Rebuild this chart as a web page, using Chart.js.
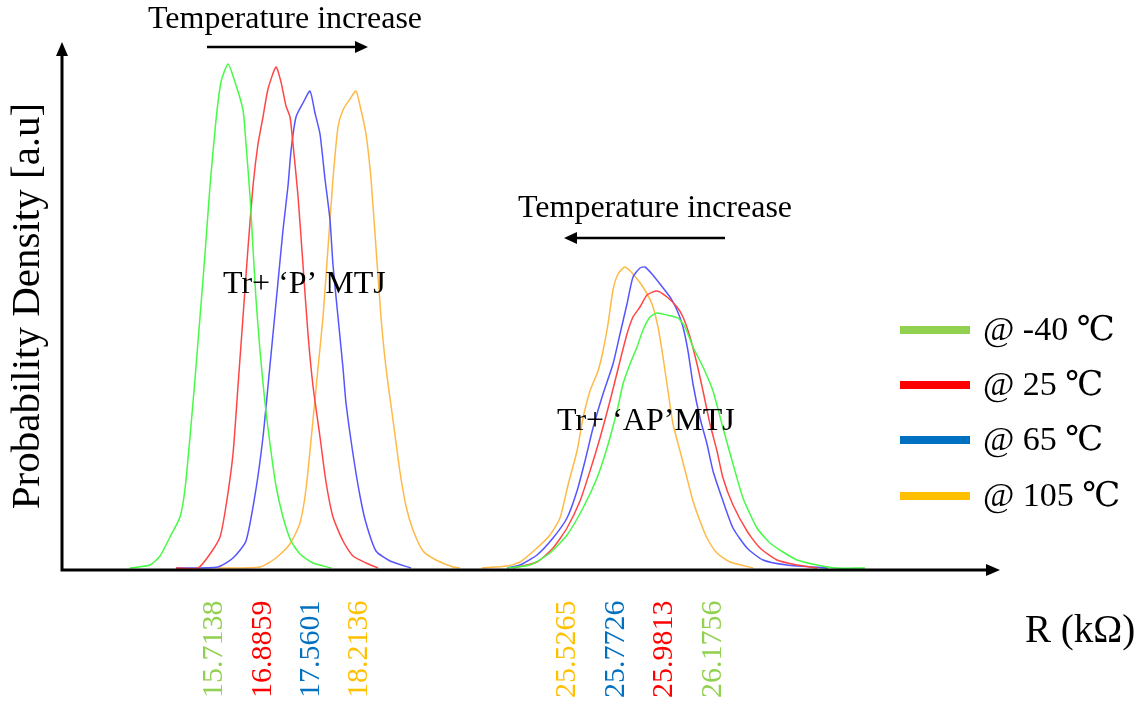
<!DOCTYPE html>
<html>
<head>
<meta charset="utf-8">
<script src="https://cdn.jsdelivr.net/npm/chart.js@4/dist/chart.umd.min.js"></script>
<style>
  html, body { margin: 0; padding: 0; background: #fff; }
  #wrap { width: 1142px; height: 706px; position: relative; }
</style>
</head>
<body>
<div id="wrap"><canvas id="pdf"></canvas></div>
<script>
// Posisi sumbu x dalam satuan sembarang (a.u.), tinggi kurva dalam a.u.
const seriesNames = ['@ -40 ℃', '@ 25 ℃', '@ 65 ℃', '@ 105 ℃'];
const lineColors = ['rgb(70,250,70)', 'rgb(255,70,70)', 'rgb(85,85,255)', 'rgb(255,185,70)'];
const legendColors = ['#92D050', '#FF0000', '#0070C0', '#FFC000'];

// ---- Kelompok 'P' MTJ ----
const greenP = [[130,2],[150,5],[160,14],[170,33],[180,53],[185,81],[190,133],[195,191],[200,253],[205,316],[210,384],[216,450],[221,488],[228,506],[235,488],[243,460],[246,426],[250,374],[253,322],[256,271],[260,219],[265,167],[270,126],[276,84],[283,53],[291,29],[300,16],[313,7],[331,2]];
const redP = [[176,2],[198,2],[210,16],[220,33],[226,64],[233,116],[238,184],[243,253],[248,322],[253,384],[258,426],[263,453],[268,481],[276,503],[281,488],[286,464],[290,453],[293,426],[298,374],[303,305],[308,236],[313,184],[320,133],[326,88],[333,53],[343,29],[353,14],[366,7],[378,2]];
const blueP = [[176,2],[218,3],[233,12],[246,29],[256,81],[263,133],[268,184],[273,236],[278,288],[283,340],[288,384],[291,419],[296,453],[303,467],[310,479],[315,457],[320,436],[325,391],[330,350],[333,305],[338,253],[343,202],[346,167],[353,116],[360,74],[366,47],[376,19],[390,9],[411,2]];
const orangeP = [[218,2],[260,3],[276,12],[290,26],[300,47],[306,81],[313,150],[318,202],[323,253],[328,322],[333,391],[338,443],[343,460],[350,471],[356,479],[361,460],[366,436],[371,391],[376,322],[381,253],[386,202],[393,150],[400,98],[406,64],[413,40],[423,19],[436,10],[453,3],[460,2]];

// ---- Kelompok 'AP' MTJ ----
const greenAP = [[507,2],[530,5],[550,17],[567,35],[583,62],[597,92],[607,122],[617,159],[623,186],[630,206],[637,223],[643,240],[650,253],[657,257],[667,255],[678,252],[685,243],[693,223],[703,203],[713,179],[723,142],[733,106],[743,72],[757,42],[770,27],[783,18],[797,10],[817,5],[837,2],[865,2]];
const redAP = [[513,2],[537,8],[553,22],[567,42],[580,69],[590,99],[600,132],[610,169],[620,209],[627,236],[633,253],[640,263],[647,275],[657,279],[667,273],[677,263],[683,253],[690,233],[697,206],[703,179],[710,146],[717,119],[723,92],[733,65],[747,39],[760,22],[777,10],[797,5],[817,2]];
const blueAP = [[507,2],[520,5],[537,15],[553,32],[567,52],[577,79],[585,109],[593,142],[603,176],[613,206],[620,236],[627,266],[633,293],[640,302],[645,303],[652,296],[660,286],[670,273],[677,260],[683,243],[688,219],[693,186],[700,152],[707,126],[713,99],[723,69],[733,42],[747,22],[763,10],[787,5],[828,2]];
const orangeAP = [[482,2],[507,4],[520,8],[537,22],[550,35],[560,52],[568,85],[577,119],[583,152],[590,179],[598,199],[603,219],[608,246],[613,280],[618,296],[625,303],[633,296],[643,283],[652,266],[658,243],[663,213],[668,179],[673,146],[680,119],[687,92],[693,69],[700,49],[707,32],[717,17],[730,8],[753,2]];

// Label puncak (nilai R dalam kΩ) dan posisinya di sumbu
const peakLabels = ['15.7138', '16.8859', '17.5601', '18.2136', '25.5265', '25.7726', '25.9813', '26.1756'];
const peakPos = [213, 262, 310, 358, 566, 615, 663, 712];
const peakColorIdx = [0, 1, 2, 3, 3, 2, 1, 0];

const xRange = [62, 1000];
const yRange = [0, 528];

const curves = [greenP, redP, blueP, orangeP, greenAP, redAP, blueAP, orangeAP];
const curveColorIdx = [0, 1, 2, 3, 0, 1, 2, 3];

const SERIF = '"Liberation Serif", "DejaVu Serif", "Times New Roman", serif';

function arrowHead(ctx, x, y, dir, len, half) {
    // dir: 'right' | 'left' | 'up'
    ctx.beginPath();
    if (dir === 'right') { ctx.moveTo(x, y); ctx.lineTo(x - len, y - half); ctx.lineTo(x - len, y + half); }
    if (dir === 'left')  { ctx.moveTo(x, y); ctx.lineTo(x + len, y - half); ctx.lineTo(x + len, y + half); }
    if (dir === 'up')    { ctx.moveTo(x, y); ctx.lineTo(x - half, y + len); ctx.lineTo(x + half, y + len); }
    ctx.closePath();
    ctx.fill();
}

const decorPlugin = {
    id: 'decor',
    afterDraw(chart) {
        const { ctx, chartArea: a, scales: { x, y } } = chart;
        ctx.save();
        ctx.fillStyle = '#000';
        ctx.strokeStyle = '#000';

        // Sumbu dengan panah
        ctx.lineWidth = 3;
        ctx.beginPath();
        ctx.moveTo(a.left, a.top + 12);
        ctx.lineTo(a.left, a.bottom);
        ctx.lineTo(a.right - 12, a.bottom);
        ctx.stroke();
        arrowHead(ctx, a.left, a.top, 'up', 14, 6);
        arrowHead(ctx, a.right, a.bottom, 'right', 14, 6);

        // Label puncak, diputar
        ctx.font = '30px ' + SERIF;
        ctx.textBaseline = 'middle';
        ctx.textAlign = 'left';
        peakLabels.forEach((lbl, i) => {
            const px = x.getPixelForValue(peakPos[i]);
            ctx.save();
            ctx.translate(px, a.bottom + 128);
            ctx.rotate(-Math.PI / 2);
            ctx.fillStyle = legendColors[peakColorIdx[i]];
            ctx.fillText(lbl, 0, 1);
            ctx.restore();
        });

        // Judul sumbu
        ctx.fillStyle = '#000';
        ctx.save();
        ctx.translate(28, 306);
        ctx.rotate(-Math.PI / 2);
        ctx.textAlign = 'center';
        ctx.font = '41px ' + SERIF;
        ctx.fillText('Probability Density [a.u]', 0, 0);
        ctx.restore();

        ctx.font = '39px ' + SERIF;
        ctx.textAlign = 'left';
        ctx.fillText('R (kΩ)', 1025, 632);

        // Anotasi
        ctx.font = '32px ' + SERIF;
        ctx.fillText('Temperature increase', 148, 20);
        ctx.fillText('Temperature increase', 518, 209);
        ctx.fillText('Tr+ \u2018P\u2019 MTJ', 223, 285);
        ctx.fillText('Tr+ \u2018AP\u2019MTJ', 557, 422);

        ctx.lineWidth = 2.5;
        ctx.beginPath();
        ctx.moveTo(207, 47); ctx.lineTo(356, 47);
        ctx.moveTo(725, 238); ctx.lineTo(576, 238);
        ctx.stroke();
        arrowHead(ctx, 368, 47, 'right', 13, 6);
        arrowHead(ctx, 564, 238, 'left', 13, 6);

        // Legenda
        const legY = [330, 385, 440, 496];
        seriesNames.forEach((name, i) => {
            ctx.fillStyle = legendColors[i];
            ctx.fillRect(900, legY[i] - 4, 70, 8);
            ctx.fillStyle = '#000';
            ctx.font = '34px ' + SERIF;
            ctx.fillText(name, 983, legY[i] + 1);
        });

        ctx.restore();
    }
};

const datasets = curves.map((pts, i) => ({
    label: seriesNames[curveColorIdx[i]],
    data: pts.map(p => ({ x: p[0], y: p[1] })),
    borderColor: lineColors[curveColorIdx[i]],
    borderWidth: 1.5,
    pointRadius: 0,
    fill: false,
    tension: 0.2
}));

new Chart(document.getElementById('pdf'), {
    type: 'line',
    data: { datasets },
    options: {
        responsive: true,
        maintainAspectRatio: false,
        animation: false,
        layout: { padding: { left: 62, right: 142, top: 42, bottom: 136 } },
        plugins: { legend: { display: false }, tooltip: { enabled: false } },
        scales: {
            x: { type: 'linear', min: xRange[0], max: xRange[1], display: false },
            y: { min: yRange[0], max: yRange[1], display: false }
        }
    },
    plugins: [decorPlugin]
});
</script>
</body>
</html>
